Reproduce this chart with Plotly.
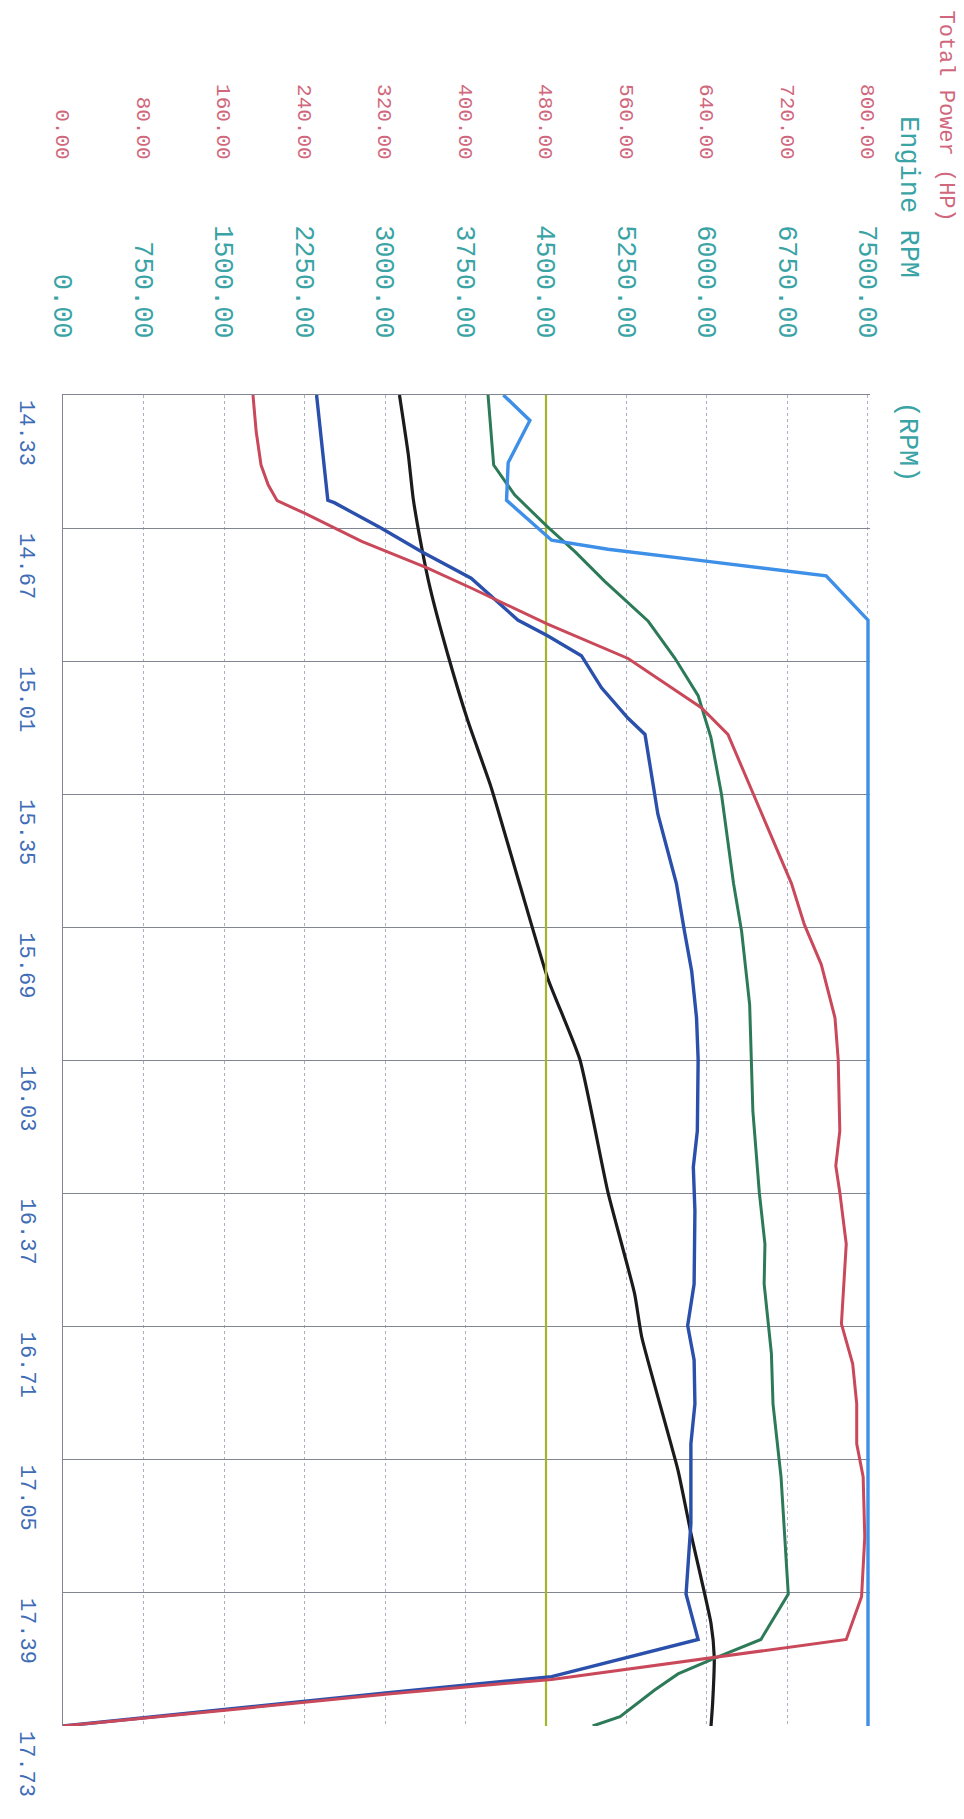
import plotly.graph_objects as go

# ---------------- data ----------------
time_ticks = [14.33, 14.67, 15.01, 15.35, 15.69, 16.03, 16.37, 16.71, 17.05, 17.39, 17.73]
time_labels = ["14.33", "14.67", "15.01", "15.35", "15.69", "16.03", "16.37", "16.71", "17.05", "17.39", "17.73"]
power_ticks = [0, 80, 160, 240, 320, 400, 480, 560, 640, 720, 800]
power_labels = ["0.00", "80.00", "160.00", "240.00", "320.00", "400.00", "480.00", "560.00", "640.00", "720.00", "800.00"]
rpm_ticks = [0, 750, 1500, 2250, 3000, 3750, 4500, 5250, 6000, 6750, 7500]
rpm_labels = ["0.00", "750.00", "1500.00", "2250.00", "3000.00", "3750.00", "4500.00", "5250.00", "6000.00", "6750.00", "7500.00"]

# Total power (HP) - red
red_t = [14.33, 14.424, 14.509, 14.560, 14.600, 14.632, 14.704, 14.772, 14.823, 14.915, 15.003, 15.129,
         15.197, 15.394, 15.578, 15.683, 15.785, 15.921, 16.027, 16.210, 16.299, 16.367, 16.499, 16.703,
         16.805, 16.907, 17.009, 17.094, 17.247, 17.400, 17.509, 17.611, 17.648, 17.689, 17.73]
red_hp = [188.8, 192.0, 196.8, 204.0, 212.8, 240.0, 296.8, 362.4, 405.6, 481.6, 561.6, 634.4,
          660.8, 693.6, 724.0, 736.8, 753.6, 767.2, 770.4, 772.0, 768.0, 772.0, 778.4, 773.6,
          784.8, 788.8, 788.8, 795.2, 796.8, 793.6, 778.4, 485.6, 323.2, 164.0, 0.0]

# navy series (HP scale)
navy_t = [14.33, 14.441, 14.599, 14.605, 14.67, 14.730, 14.798, 14.905, 14.945, 14.996, 15.078, 15.156,
          15.197, 15.401, 15.578, 15.700, 15.802, 15.921, 16.027, 16.210, 16.302, 16.414, 16.601, 16.707,
          16.795, 16.907, 17.009, 17.213, 17.393, 17.509, 17.604, 17.645, 17.686, 17.73]
navy_v = [252.0, 256.8, 263.2, 269.6, 316.0, 356.0, 405.6, 452.0, 481.6, 515.2, 535.2, 561.6,
          578.4, 591.2, 609.6, 617.6, 624.8, 629.6, 631.2, 630.4, 626.4, 628.0, 627.2, 620.8,
          627.2, 628.0, 624.0, 624.0, 619.2, 631.2, 485.6, 323.2, 164.0, 0.0]

# green series (HP scale)
green_t = [14.33, 14.509, 14.585, 14.667, 14.730, 14.806, 14.908, 15.002, 15.098, 15.206, 15.35, 15.578,
           15.700, 15.887, 16.159, 16.367, 16.499, 16.601, 16.778, 16.907, 17.094, 17.264, 17.393, 17.509,
           17.557, 17.597, 17.638, 17.706, 17.73]
green_v = [422.4, 428.0, 448.8, 481.6, 508.8, 538.4, 581.6, 608.0, 631.2, 644.0, 654.4, 666.4,
           674.4, 682.4, 685.6, 692.0, 697.6, 696.8, 704.0, 705.6, 713.6, 717.6, 720.8, 693.6,
           647.2, 611.2, 588.0, 553.6, 526.4]

# engine RPM - black (RPM scale)
rpm_t = [14.33, 14.483, 14.594, 14.713, 14.823, 14.993, 15.163, 15.333, 15.578, 15.819, 16.027, 16.367,
         16.625, 16.737, 17.077, 17.247, 17.468, 17.553, 17.672, 17.73]
rpm_v = [3135, 3217.5, 3262.5, 3337.5, 3420, 3585, 3772.5, 3990, 4252.5, 4515, 4815, 5077.5,
         5325, 5392.5, 5730, 5857.5, 6037.5, 6067.5, 6052.5, 6037.5]

# light blue series (HP scale)
lblue_t = [14.33, 14.395, 14.503, 14.599, 14.701, 14.724, 14.755, 14.792, 14.905, 17.73]
lblue_v = [437.6, 464.0, 442.4, 440.8, 485.6, 541.6, 640.8, 758.4, 800.0, 800.0]

# olive reference line (HP scale)
olive_t = [14.33, 17.73]
olive_v = [480, 480]

# ---------------- layout geometry ----------------
W, H = 964, 1819
PL = 55                   # plot left in px (value 0)
PX800 = 860               # px of the 800 HP / 7500 RPM gridline
EXTRA = 2.0               # small headroom past the last gridline (in HP)
PR = PX800 + (PX800 - PL) * EXTRA / 800.0
PTOP, PBOT = 387, 1718    # plot top/bottom in px
PAPER_TOP = 165           # top of paper area in px


def pxx(px):
    return (px - PL) / (PR - PL)


def pxy(py):
    return (PBOT - py) / (PBOT - PAPER_TOP)


MONO = "Liberation Mono, Courier New, monospace"
RED = "#c9485a"
PINK = "#d0677c"
TEAL = "#3aa3a6"
TBLUE = "#3f6db5"
GRID_H = "#80858f"
GRID_V = "#aab1c0"

fig = go.Figure()

fig.add_trace(go.Scatter(x=olive_v, y=olive_t, mode="lines", xaxis="x2", yaxis="y",
                         line=dict(color="#a4b42c", width=2.2), showlegend=False))
fig.add_trace(go.Scatter(x=rpm_v, y=rpm_t, mode="lines", xaxis="x", yaxis="y",
                         line=dict(color="#1b1b1d", width=3.2, shape="spline", smoothing=0.5),
                         showlegend=False, name="Engine RPM"))
fig.add_trace(go.Scatter(x=green_v, y=green_t, mode="lines", xaxis="x2", yaxis="y",
                         line=dict(color="#2d7a58", width=3), showlegend=False))
fig.add_trace(go.Scatter(x=navy_v, y=navy_t, mode="lines", xaxis="x2", yaxis="y",
                         line=dict(color="#2b50ac", width=3.4), showlegend=False))
fig.add_trace(go.Scatter(x=red_hp, y=red_t, mode="lines", xaxis="x2", yaxis="y",
                         line=dict(color=RED, width=3), showlegend=False, name="Total Power"))
fig.add_trace(go.Scatter(x=lblue_v, y=lblue_t, mode="lines", xaxis="x2", yaxis="y",
                         line=dict(color="#3d8fe8", width=3.4), showlegend=False, cliponaxis=False))

domain_top = (PBOT - PTOP) / (PBOT - PAPER_TOP)

fig.update_layout(
    width=W, height=H,
    margin=dict(l=PL, r=round(W - PR), t=PAPER_TOP, b=H - PBOT, pad=0),
    paper_bgcolor="white", plot_bgcolor="white",
    showlegend=False,
    xaxis=dict(
        range=[0, 7500 * (800 + EXTRA) / 800], side="top", anchor="y",
        tickmode="array", tickvals=rpm_ticks, ticktext=rpm_labels,
        tickangle=90, tickfont=dict(family=MONO, size=27, color=TEAL),
        ticks="outside", ticklen=46, tickcolor="rgba(0,0,0,0)",
        showgrid=True, gridcolor=GRID_V, gridwidth=1, griddash="3px,3px",
        showline=True, linecolor=GRID_H, linewidth=1,
        zeroline=False, fixedrange=True,
    ),
    xaxis2=dict(
        range=[0, 800 + EXTRA], side="top", overlaying="x", anchor="free", position=1,
        tickmode="array", tickvals=power_ticks, ticktext=power_labels,
        tickangle=90, tickfont=dict(family=MONO, size=21, color=PINK),
        ticks="outside", ticklen=6, tickcolor="rgba(0,0,0,0)",
        showgrid=False, showline=False, zeroline=False, fixedrange=True,
    ),
    yaxis=dict(
        range=[17.73, 14.33], domain=[0, domain_top],
        tickmode="array", tickvals=time_ticks, showticklabels=False,
        showgrid=True, gridcolor=GRID_H, gridwidth=1,
        showline=True, linecolor=GRID_H, linewidth=1,
        zeroline=False, ticks="", fixedrange=True,
    ),
)

annotations = []
for tv, tl in zip(time_ticks, time_labels):
    annotations.append(dict(
        x=pxx(18), xref="paper", y=tv, yref="y",
        text=tl, textangle=90, showarrow=False,
        xanchor="center", yanchor="top", yshift=-3,
        font=dict(family=MONO, size=22, color=TBLUE),
    ))

annotations.append(dict(
    x=pxx(938), xref="paper", y=pxy(1), yref="paper",
    text="Total Power (HP)", textangle=90, showarrow=False,
    xanchor="center", yanchor="top",
    font=dict(family=MONO, size=22, color=PINK),
))
annotations.append(dict(
    x=pxx(900), xref="paper", y=pxy(106), yref="paper",
    text="Engine RPM", textangle=90, showarrow=False,
    xanchor="center", yanchor="top",
    font=dict(family=MONO, size=27, color=TEAL),
))
annotations.append(dict(
    x=pxx(900), xref="paper", y=pxy(392), yref="paper",
    text="(RPM)", textangle=90, showarrow=False,
    xanchor="center", yanchor="top",
    font=dict(family=MONO, size=27, color=TEAL),
))
fig.update_layout(annotations=annotations)

fig.write_html("out.html")
